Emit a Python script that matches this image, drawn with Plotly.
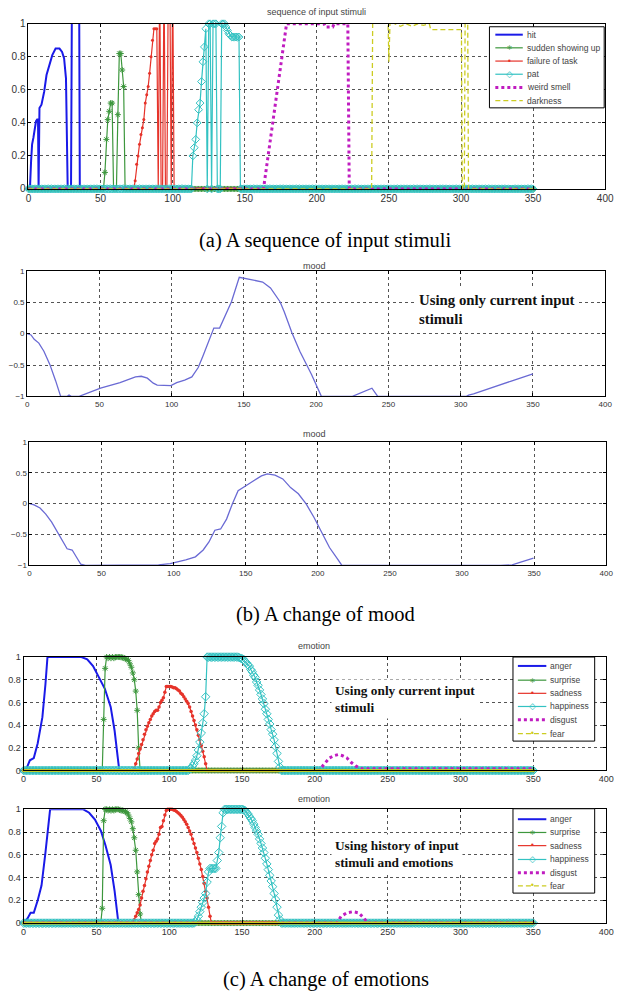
import plotly.graph_objects as go

W, H = 623, 998


def px(x):
    return x / W


def py(y):
    return 1 - y / H


N_STEPS = 351  # time steps 0..350


def on_baseline(start, values, base=0.0):
    """Series that sits on `base` except for the listed readings starting at `start`."""
    y = [base] * N_STEPS
    y[start:start + len(values)] = values
    return y


steps = list(range(N_STEPS))

# ---------------------------------------------------------------- (a) stimuli
hit_x = [0, 1, 1.8, 2.5, 3.4, 4.5, 5.2, 6.0, 6.6, 7.0, 7.6, 9.0, 10.9, 12.5, 14.3,
         16.5, 18.8, 21.5, 23.3, 24.7, 26.0, 26.7, 27.2, 29.5, 30.3, 35.0, 35.6, 350]
hit_y = [0, 0, 0.17, 0.27, 0.31, 0.37, 0.41, 0.42, 0.42, 0, 0.49, 0.51, 0.59, 0.69, 0.75,
         0.81, 0.85, 0.85, 0.83, 0.79, 0.67, 0.31, 0, 0, 1.5, 1.5, 0, 0]

sudden_start = 52
sudden_vals = [0, 0.1, 0.3, 0.42, 0.47, 0.52, 0.52, 0, 0, 0, 0.45, 0.82, 0.82, 0.72, 0.62, 0]

failure_start = 73
failure_vals = [0, 0.05, 0.15, 0.2, 0.27, 0.33, 0.37, 0.42, 0.52, 0.57, 0.62, 0.7, 0.8, 0.9,
                0.97, 0.97, 0.97, 0, 1.3, 0, 0, 1.3, 0, 0, 1.3, 1.3, 0, 1.3, 0]

pat_start = 113
pat_vals = [0, 0.2, 0.25, 0.3, 0.4, 0.48, 0.52, 0.65, 0.77, 0.86, 0.97, 0, 1.0, 1.0, 0,
            1.0, 1.0, 1.0, 0, 0, 0, 1.0, 1.0, 1.0, 0.98, 0.96, 0.94, 0.93, 0.92, 0.92,
            0.92, 0.92, 0.92, 0.92, 0]

smell_x = [0, 163, 179, 205, 206, 211, 212, 221.5, 222.5, 350]
smell_y = [0, 0, 1, 1, 0.98, 0.98, 1, 1, 0, 0]

dark_x = [0, 238, 238.8, 249.3, 250.0, 250.8, 254, 258, 262, 266, 270, 274, 278, 279,
          300.3, 300.9, 302.3, 302.9, 304.6, 305.2, 350]
dark_y = [0, 0, 1.1, 1.05, 0.77, 1.02, 1.0, 0.985, 1.0, 0.985, 1.0, 0.99, 1.0, 0.965,
          0.965, 0, 0, 1.1, 1.1, 0, 0]

# ---------------------------------------------------------------- (b) mood
mood_cur_x = [0, 2.7, 4.9, 8.1, 11.6, 15.7, 19.7, 23.2, 27.8, 29.0, 30.5, 36.0, 50.8, 64.3,
              75.0, 79.0, 83.2, 87.3, 90.0, 94.0, 99.5, 103.5, 109.0, 114.0, 118.4, 121.6,
              126.5, 129.2, 133.2, 137.3, 141.4, 146.8, 163.0, 168.4, 175.0, 177.9, 183.3,
              188.7, 196.8, 203.6, 225.1, 238.6, 242.6, 304.0, 305.5, 308.9, 321.0, 334.5,
              350.0]
mood_cur_y = [0.0, -0.02, -0.09, -0.15, -0.28, -0.49, -0.75, -1.0, -1.0, -0.98, -1.0, -1.0,
              -0.87, -0.78, -0.69, -0.68, -0.71, -0.79, -0.82, -0.82, -0.83, -0.78, -0.74,
              -0.69, -0.54, -0.36, -0.07, 0.09, 0.09, 0.3, 0.51, 0.9, 0.825, 0.73, 0.51, 0.35,
              0.01, -0.28, -0.65, -1.0, -1.0, -0.87, -1.0, -1.0, -0.98, -0.96, -0.86, -0.76,
              -0.64]

mood_hist_x = [0, 3.2, 7.3, 11.3, 15.4, 19.4, 23.5, 26.1, 29.6, 32.9, 35.6, 38.8, 70.6, 74.7,
               85.4, 89.5, 97.6, 103.0, 108.4, 115.1, 120.5, 124.5, 128.6, 132.6, 136.7,
               140.7, 144.7, 150.1, 155.5, 160.9, 165.0, 170.3, 175.7, 181.1, 186.5, 191.9,
               197.3, 202.7, 208.1, 213.5, 216.7, 326.7, 334.8, 340.2, 345.6, 349.6]
mood_hist_y = [0, -0.02, -0.07, -0.17, -0.3, -0.46, -0.62, -0.73, -0.75, -0.89, -0.98, -1.0,
               -1.0, -0.99, -1.0, -0.99, -0.97, -0.94, -0.91, -0.86, -0.75, -0.62, -0.43,
               -0.41, -0.25, -0.005, 0.21, 0.29, 0.37, 0.45, 0.48, 0.46, 0.4, 0.26, 0.16,
               -0.005, -0.22, -0.46, -0.71, -0.89, -1.0, -1.0, -0.99, -0.95, -0.91, -0.88]

# ---------------------------------------------------------------- (c) emotions, current input only
anger_cur_x = [0, 2.1, 4.3, 7.0, 9.7, 12.9, 15.0, 16.4, 39.7, 43.7, 47.7, 51.7, 55.8, 59.8,
               62.5, 64.6, 65.7, 350]
anger_cur_y = [0, 0.02, 0.09, 0.11, 0.24, 0.47, 0.76, 1.0, 1.0, 0.98, 0.92, 0.82, 0.72, 0.56,
               0.35, 0.12, 0, 0]

surprise_cur_start = 54
surprise_cur_vals = [0, 0.45, 0.9, 1.0, 0.99, 1.0, 0.99, 1.0, 0.99, 1.0, 1.0, 1.0, 1.0, 1.0,
                     0.995, 0.99, 0.985, 0.98, 0.97, 0.94, 0.91, 0.86, 0.8, 0.7, 0.53, 0.2, 0]

sadness_cur_start = 75
sadness_cur_vals = [0, 0.02, 0.06, 0.1, 0.15, 0.19, 0.23, 0.27, 0.32, 0.36, 0.39, 0.42, 0.45,
                    0.48, 0.5, 0.52, 0.53, 0.53, 0.56, 0.6, 0.62, 0.64, 0.69, 0.74, 0.74, 0.74,
                    0.74, 0.735, 0.73, 0.73, 0.72, 0.71, 0.7, 0.68, 0.67, 0.65, 0.63, 0.61,
                    0.59, 0.56, 0.52, 0.48, 0.44, 0.4, 0.36, 0.31, 0.27, 0.22, 0.17, 0.12,
                    0.06, 0]

happiness_cur_start = 113
happiness_cur_vals = [0, 0.01, 0.02, 0.04, 0.06, 0.09, 0.13, 0.18, 0.25, 0.33, 0.42, 0.5,
                      0.65, 1.0, 1.0, 1.0, 1.0, 1.0, 1.0, 1.0, 1.0, 1.0, 1.0, 1.0, 1.0, 1.0,
                      1.0, 1.0, 1.0, 1.0, 1.0, 1.0, 1.0, 1.0, 1.0, 0.995, 0.99, 0.985, 0.98,
                      0.96, 0.95, 0.93, 0.92, 0.89, 0.87, 0.84, 0.82, 0.78, 0.75, 0.71, 0.67,
                      0.63, 0.59, 0.54, 0.5, 0.45, 0.41, 0.36, 0.32, 0.27, 0.21, 0.15, 0.08,
                      0.03, 0]

disgust_cur_x = [0, 203, 206, 210, 213, 216, 219, 222, 225, 228, 231, 232, 350]
disgust_cur_y = [0, 0, 0.05, 0.11, 0.13, 0.14, 0.13, 0.11, 0.07, 0.04, 0.02, 0.015, 0.015]

# ---------------------------------------------------------------- (c) emotions, with history
anger_hist_x = [0, 2.7, 4.8, 7.0, 9.7, 12.3, 15.0, 16.9, 18.2, 41.0, 45.0, 49.0, 53.1, 56.3,
                59.8, 62.5, 65.1, 350]
anger_hist_y = [0, 0.04, 0.09, 0.09, 0.2, 0.33, 0.62, 0.86, 1.0, 1.0, 0.97, 0.91, 0.81, 0.68,
                0.51, 0.28, 0, 0]

surprise_hist_start = 53
surprise_hist_vals = [0, 0.13, 0.9, 1.0, 1.0, 0.99, 1.0, 0.99, 1.0, 0.99, 1.0, 1.0, 1.0,
                      0.995, 0.99, 0.99, 0.985, 0.98, 0.97, 0.95, 0.92, 0.89, 0.83, 0.75,
                      0.64, 0.45, 0.25, 0.08, 0]

sadness_hist_start = 74
sadness_hist_vals = [0, 0.01, 0.03, 0.06, 0.09, 0.12, 0.16, 0.22, 0.28, 0.33, 0.39, 0.45, 0.5,
                     0.55, 0.6, 0.64, 0.7, 0.72, 0.74, 0.78, 0.84, 0.85, 0.9, 0.95, 0.99, 1.0,
                     1.0, 1.0, 1.0, 0.995, 0.99, 0.98, 0.97, 0.96, 0.945, 0.93, 0.91, 0.89,
                     0.87, 0.84, 0.81, 0.78, 0.74, 0.7, 0.66, 0.62, 0.57, 0.52, 0.47, 0.41,
                     0.35, 0.28, 0.22, 0.14, 0.06, 0]

happiness_hist_start = 117
happiness_hist_vals = [0, 0.01, 0.03, 0.06, 0.1, 0.14, 0.18, 0.22, 0.26, 0.36, 0.45, 0.48,
                       0.48, 0.48, 0.48, 0.48, 0.55, 0.62, 0.75, 0.85, 0.97, 1.0, 1.0, 1.0,
                       1.0, 1.0, 1.0, 1.0, 1.0, 1.0, 1.0, 1.0, 1.0, 1.0, 0.995, 0.99, 0.975,
                       0.96, 0.94, 0.92, 0.9, 0.87, 0.84, 0.81, 0.78, 0.74, 0.7, 0.66, 0.62,
                       0.57, 0.52, 0.47, 0.42, 0.37, 0.32, 0.26, 0.21, 0.14, 0.07, 0.03, 0]

disgust_hist_x = [0, 215, 218, 222, 226, 230, 234, 236, 350]
disgust_hist_y = [0, 0, 0.06, 0.09, 0.1, 0.09, 0.04, 0, 0]

fear_vals = on_baseline(0, [])

# ---------------------------------------------------------------- styling
BLUE = "#1a1ae8"
GREEN = "#3d973d"
RED = "#e6332a"
CYAN = "#33c2c2"
MAGENTA = "#c01cc0"
YELLOW = "#cccc22"
MOOD = "#6a6ad4"
TICK_FONT = "Liberation Sans"
SERIF = "Liberation Serif"
SHORT_DASH = "5px,3px"

x_ticks = [0, 50, 100, 150, 200, 250, 300, 350, 400]

# plot-area rectangles in pixels: (left, top, right, bottom)
panels = {
    "1": (26, 19, 614, 186),
    "2": (24.6, 269, 614, 395.7),
    "3": (27, 441.7, 615, 566.7),
    "4": (21, 659.3, 615, 774),
    "5": (21, 813.3, 615, 928.3),
}
y_setup = {
    "1": ([0, 1], [0, 0.2, 0.4, 0.6, 0.8, 1], 10),
    "2": ([-1, 1], [-1, -0.5, 0, 0.5, 1], 8),
    "3": ([-1, 1], [-1, -0.5, 0, 0.5, 1], 8),
    "4": ([0, 1], [0, 0.2, 0.4, 0.6, 0.8, 1], 9),
    "5": ([0, 1], [0, 0.2, 0.4, 0.6, 0.8, 1], 9),
}

fig = go.Figure()


def ax(k):
    return ("x" if k == "1" else "x" + k), ("y" if k == "1" else "y" + k)


def line_trace(k, x, y, color, width=1.2, dash="solid", symbol=None, msize=5, clip=True):
    xa, ya = ax(k)
    mode = "lines+markers" if symbol else "lines"
    marker = None
    if symbol:
        if symbol.endswith("-open"):
            marker = dict(symbol=symbol, size=msize, color=color, line=dict(color=color, width=1))
        else:
            marker = dict(symbol=symbol, size=msize, color=color, line=dict(width=0))
    fig.add_trace(go.Scatter(x=x, y=y, xaxis=xa, yaxis=ya, mode=mode,
                             line=dict(color=color, width=width, dash=dash),
                             marker=marker, cliponaxis=clip, hoverinfo="skip"))


# (a) stimuli
line_trace("1", hit_x, hit_y, BLUE, width=2)
line_trace("1", steps, on_baseline(sudden_start, sudden_vals), GREEN, symbol="asterisk-open", msize=5, clip=False)
line_trace("1", steps, on_baseline(failure_start, failure_vals), RED, symbol="circle", msize=3)
line_trace("1", steps, on_baseline(pat_start, pat_vals), CYAN, symbol="diamond-open", msize=6, clip=False)
line_trace("1", smell_x, smell_y, MAGENTA, width=3, dash="dot")
line_trace("1", dark_x, dark_y, YELLOW, width=1.3, dash=SHORT_DASH)

# (b) mood
line_trace("2", mood_cur_x, mood_cur_y, MOOD, width=1.3)
line_trace("3", mood_hist_x, mood_hist_y, MOOD, width=1.3)

# (c) emotions
for k, ang, sur, sad, hap, dis in [
    ("4", (anger_cur_x, anger_cur_y), (surprise_cur_start, surprise_cur_vals),
     (sadness_cur_start, sadness_cur_vals), (happiness_cur_start, happiness_cur_vals),
     (disgust_cur_x, disgust_cur_y)),
    ("5", (anger_hist_x, anger_hist_y), (surprise_hist_start, surprise_hist_vals),
     (sadness_hist_start, sadness_hist_vals), (happiness_hist_start, happiness_hist_vals),
     (disgust_hist_x, disgust_hist_y)),
]:
    line_trace(k, ang[0], ang[1], BLUE, width=2)
    line_trace(k, steps, on_baseline(*sur), GREEN, symbol="asterisk-open", msize=5, clip=False)
    line_trace(k, steps, on_baseline(*sad), RED, symbol="circle", msize=3.5, clip=False)
    line_trace(k, steps, on_baseline(*hap), CYAN, symbol="diamond-open", msize=6.5, clip=False)
    line_trace(k, dis[0], dis[1], MAGENTA, width=3, dash="dot")
    line_trace(k, steps, fear_vals, YELLOW, width=1.2, dash=SHORT_DASH, symbol="circle", msize=3, clip=False)

# axes
layout = {}
for k, (l, t, r, b) in panels.items():
    yr, yt, fs = y_setup[k]
    xname = "xaxis" if k == "1" else "xaxis" + k
    yname = "yaxis" if k == "1" else "yaxis" + k
    xa, ya = ax(k)
    common = dict(showline=True, mirror="ticks", linecolor="black", linewidth=1,
                  ticks="inside", ticklen=3, tickcolor="black",
                  showgrid=True, gridcolor="#555555", griddash="dot", gridwidth=1,
                  zeroline=False, tickfont=dict(family=TICK_FONT, size=fs, color="#333333"),
                  fixedrange=True)
    layout[xname] = dict(domain=[px(l), px(r)], range=[0, 400], tickvals=x_ticks,
                         anchor=ya, **common)
    layout[yname] = dict(domain=[py(b), py(t)], range=yr, tickvals=yt,
                         anchor=xa, **common)
fig.update_layout(**layout)

annotations = []
shapes = []

# panel titles
for text, x, y in [("sequence of input stimuli", 320, 7), ("mood", 318, 264),
                   ("mood", 318, 434), ("emotion", 317, 648), ("emotion", 317, 803)]:
    annotations.append(dict(text=text, x=px(x), y=py(y), xref="paper", yref="paper",
                            showarrow=False, xanchor="center", yanchor="middle",
                            font=dict(family=TICK_FONT, size=9, color="#444444")))

# captions
for text, y in [("(a) A sequence of input stimuli", 238.5), ("(b) A change of mood", 616.7),
                ("(c) A change of emotions", 985)]:
    annotations.append(dict(text=text, x=px(329), y=py(y), xref="paper", yref="paper",
                            showarrow=False, xanchor="center", yanchor="middle",
                            font=dict(family=SERIF, size=20.5, color="black")))

# in-plot notes
for text, x, y, fs in [("Using only current input<br>stimuli", 420, 307.5, 14.8),
                       ("Using only current input<br>stimuli", 334, 702, 13.3),
                       ("Using history of input<br>stimuli and emotions", 334, 858, 13.3)]:
    annotations.append(dict(text="<b>" + text + "</b>", x=px(x), y=py(y), xref="paper",
                            yref="paper", showarrow=False, xanchor="left", yanchor="middle",
                            align="left", bgcolor="white", borderpad=3,
                            font=dict(family=SERIF, size=fs, color="#111111")))


def add_legend(box, rows, entries, lx0, lx1, tx):
    shapes.append(dict(type="rect", xref="paper", yref="paper", x0=px(box[0]), x1=px(box[2]),
                       y0=py(box[3]), y1=py(box[1]), line=dict(color="black", width=1),
                       fillcolor="white", layer="above"))
    for (label, color, dash, width, glyph), y in zip(entries, rows):
        shapes.append(dict(type="line", xref="paper", yref="paper", x0=px(lx0), x1=px(lx1),
                           y0=py(y), y1=py(y), line=dict(color=color, width=width, dash=dash),
                           layer="above"))
        if glyph:
            g, gs, shift = glyph
            annotations.append(dict(text=g, x=px((lx0 + lx1) / 2), y=py(y), xref="paper",
                                    yref="paper", showarrow=False, xanchor="center",
                                    yanchor="middle", yshift=shift,
                                    font=dict(family="DejaVu Sans", size=gs, color=color)))
        annotations.append(dict(text=label, x=px(tx), y=py(y), xref="paper", yref="paper",
                                showarrow=False, xanchor="left", yanchor="middle",
                                font=dict(family=TICK_FONT, size=8.5, color="#444444")))


STAR = ("*", 10, -2)
DOT = ("•", 8, 0)
DIAM = ("◇", 9, 0)

add_legend((496, 22, 613, 104), [30, 43.3, 56.7, 70, 83.3, 96.7],
           [("hit", BLUE, "solid", 2, None),
            ("sudden showing up", GREEN, "solid", 1.2, STAR),
            ("failure of task", RED, "solid", 1.2, DOT),
            ("pat", CYAN, "solid", 1.2, DIAM),
            ("weird smell", MAGENTA, "dot", 3, None),
            ("darkness", YELLOW, SHORT_DASH, 1.3, None)], 502, 530, 532)

emo_entries = [("anger", BLUE, "solid", 2, None),
               ("surprise", GREEN, "solid", 1.2, STAR),
               ("sadness", RED, "solid", 1.2, DOT),
               ("happiness", CYAN, "solid", 1.2, DIAM),
               ("disgust", MAGENTA, "dot", 3, None),
               ("fear", YELLOW, SHORT_DASH, 1.2, DOT)]
add_legend((520, 659.3, 603.3, 744.3), [668.3, 682.7, 696, 709.3, 722.7, 736.7],
           emo_entries, 525, 554, 556)
add_legend((520, 812.7, 603.3, 898), [823.3, 836.7, 850, 864, 877.3, 890.7],
           emo_entries, 525, 554, 556)

fig.update_layout(width=W, height=H, margin=dict(l=0, r=0, t=0, b=0),
                  paper_bgcolor="white", plot_bgcolor="white", showlegend=False,
                  font=dict(family=TICK_FONT), annotations=annotations, shapes=shapes)

fig.write_html("out.html")
